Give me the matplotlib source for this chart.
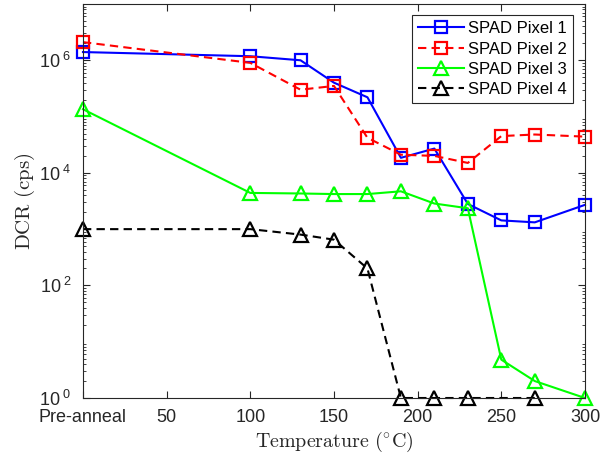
import numpy as np
import matplotlib
matplotlib.use("Agg")
import matplotlib.pyplot as plt
from matplotlib.ticker import FixedLocator, NullFormatter, LogLocator

plt.rcParams["font.family"] = ["Liberation Sans", "DejaVu Sans"]
plt.rcParams["mathtext.fontset"] = "cm"

# temperature (0 = pre-anneal)
temps = [0, 100, 130, 150, 170, 190, 210, 230, 250, 270, 300]
temps_p4 = [0, 100, 130, 150, 170, 190, 210, 230, 270]

pixel1 = [1.4e6, 1.18e6, 1.0e6, 4.0e5, 2.2e5, 1.85e4, 2.7e4, 2.8e3, 1.43e3, 1.32e3, 2.7e3]
pixel2 = [2.1e6, 9.0e5, 3.0e5, 3.5e5, 4.2e4, 2.1e4, 2.0e4, 1.5e4, 4.5e4, 4.8e4, 4.4e4]
pixel3 = [1.35e5, 4.4e3, 4.3e3, 4.2e3, 4.2e3, 4.7e3, 2.85e3, 2.35e3, 4.8, 2.0, 1.0]
pixel4 = [1000, 1000, 800, 650, 200, 1, 1, 1, 1]

xtick_vals = [0, 50, 100, 150, 200, 250, 300]
xtick_labels = ["Pre-anneal", "50", "100", "150", "200", "250", "300"]
ytick_vals = [1, 1e2, 1e4, 1e6]

axc = (0.15, 0.15, 0.15)

fig = plt.figure(figsize=(6.11, 4.58), dpi=100)
ax = fig.add_axes([0.1358, 0.131, 0.8216, 0.8603])

dash = (0, (4, 2.5))
ax.plot(temps, pixel1, color="blue", marker="s", ms=8.5, mfc="none", mew=1.6,
        lw=1.5, label="SPAD Pixel 1", clip_on=False)
ax.plot(temps, pixel2, color="red", marker="s", ms=8.5, mfc="none", mew=1.6,
        lw=1.5, ls=dash, label="SPAD Pixel 2", clip_on=False)
ax.plot(temps, pixel3, color=(0, 1, 0), marker="^", ms=9.5, mfc="none", mew=1.6,
        lw=1.5, label="SPAD Pixel 3", clip_on=False)
ax.plot(temps_p4, pixel4, color="black", marker="^", ms=9.5, mfc="none", mew=1.6,
        lw=1.5, ls=dash, label="SPAD Pixel 4", clip_on=False)

ax.set_yscale("log")
ax.set_xlim(0, 300)
ax.set_ylim(1, 1e7)

ax.set_xticks(xtick_vals)
ax.set_xticklabels(xtick_labels)
ax.yaxis.set_major_locator(FixedLocator(ytick_vals))
ax.set_yticklabels([r"$\mathregular{10^{\ %d}}$" % int(np.log10(v)) for v in ytick_vals])
ax.yaxis.set_minor_locator(LogLocator(base=10, subs=np.arange(2, 10)))
ax.yaxis.set_minor_formatter(NullFormatter())

ax.tick_params(which="both", direction="in", top=True, right=True, colors=axc,
               labelsize=13, labelcolor=axc)
ax.tick_params(which="major", length=5, width=0.8)
ax.tick_params(which="minor", length=2.5, width=0.6)
ax.tick_params(axis="x", pad=8)
ax.tick_params(axis="y", pad=8)
for s in ax.spines.values():
    s.set_color(axc)
    s.set_linewidth(0.8)

ax.set_xlabel(r"$\mathrm{Temperature\ (^{\circ}C)}$", fontsize=14.4, color=axc, labelpad=3)
ax.set_ylabel(r"$\mathrm{DCR\ (cps)}$", fontsize=15, color=axc, labelpad=2)

leg = ax.legend(loc="upper right", bbox_to_anchor=(0.976, 0.972), borderaxespad=0,
                fontsize=12, handlelength=2.75, handletextpad=0.25, labelspacing=0.32,
                borderpad=0.37, fancybox=False, framealpha=1, edgecolor=axc)
leg.get_frame().set_linewidth(0.8)

fig.savefig("out.png", dpi=100)
